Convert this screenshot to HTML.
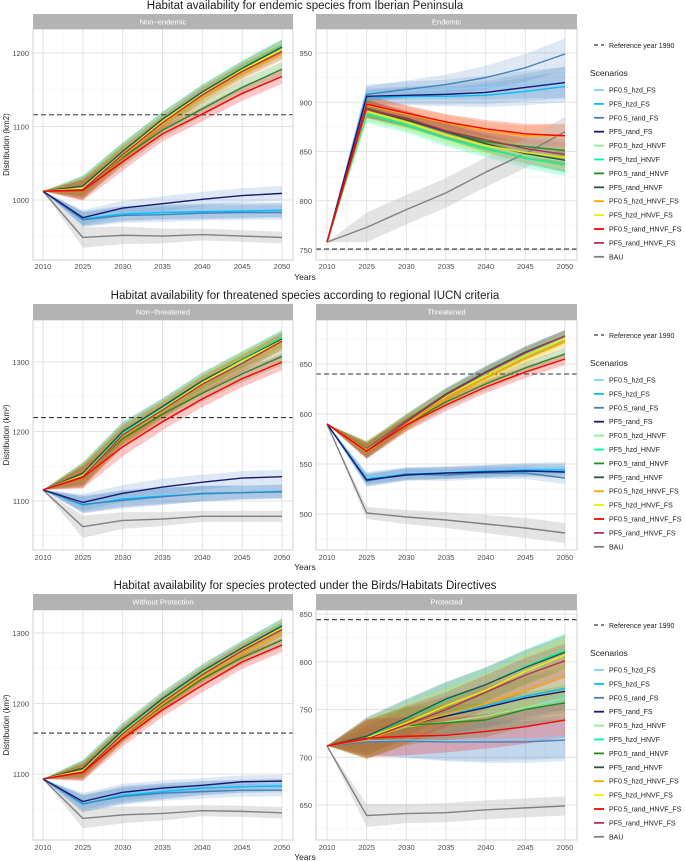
<!DOCTYPE html>
<html><head><meta charset="utf-8"><style>
html,body{margin:0;padding:0;background:#fff;}
svg{display:block;font-family:"Liberation Sans",sans-serif;}
</style></head><body>
<svg id="chart" width="685" height="861" viewBox="0 0 685 861" xmlns="http://www.w3.org/2000/svg"></svg>
<script>
const years = ["2010","2025","2030","2035","2040","2045","2050"];
const seriesNames = ["PF0.5_hzd_FS","PF5_hzd_FS","PF0.5_rand_FS","PF5_rand_FS","PF0.5_hzd_HNVF","PF5_hzd_HNVF","PF0.5_rand_HNVF","PF5_rand_HNVF","PF0.5_hzd_HNVF_FS","PF5_hzd_HNVF_FS","PF0.5_rand_HNVF_FS","PF5_rand_HNVF_FS","BAU"];
const seriesColors = ["#87cefa","#00bfff","#4682b4","#191970","#90ee90","#00fa9a","#228b22","#2f4f4f","#ffa500","#eeee00","#ff0000","#b03060","#808080"];
const groupOf = ["fs","fs","fs","fs","hn","hn","hn","hn","hn","hn","hn","hn","bau"];
const rowTitles = ["Habitat availability for endemic species from Iberian Peninsula","Habitat availability for threatened species according to regional IUCN criteria","Habitat availability for species protected under the Birds/Habitats Directives"];
const panelLabels = ["Non\u2212endemic","Endemic","Non\u2212threatened","Threatened","Without Protection","Protected"];
const refValues = [1116, 751, 1220, 640, 1158, 844];
const yTicks1 = [1000,1100,1200];
const yTicks2 = [750,800,850,900,950];
const yTicks3 = [1100,1200,1300];
const yTicks4 = [500,550,600,650];
const yTicks5 = [1100,1200,1300];
const yTicks6 = [650,700,750,800,850];

const p1 = [
 [1012,975,982,984,985,986,987],[1012,974,981,983,984,985,986],[1012,973,979,980,982,983,983],[1012,976,989,995,1001,1006,1009],
 [1012,1017,1064,1108,1145,1177,1206],[1012,1019,1066,1110,1147,1180,1209],[1012,1016,1058,1095,1124,1153,1178],[1012,1019,1066,1110,1147,1179,1208],
 [1012,1015,1060,1103,1140,1172,1200],[1012,1016,1063,1107,1144,1177,1205],[1012,1013,1052,1090,1117,1145,1168],[1012,1014,1062,1105,1143,1175,1202],
 [1012,949,952,951,953,951,949]];
const p2 = [
 [758,910,912,913,915,918,920],[758,904,906,906,907,911,916],[758,908,913,918,925,935,949],[758,906,907,908,910,915,920],
 [758,890,879,866,855,846,840],[758,888,877,863,853,843,837],[758,894,883,871,860,855,851],[758,893,882,870,858,848,841],
 [758,897,888,879,871,866,866],[758,891,880,867,856,849,844],[758,898,889,880,873,868,866],[758,893,884,871,862,853,847],
 [758,773,791,808,829,848,870]];
const p3 = [
 [1116,1096,1104,1108,1111,1113,1115],[1116,1094,1103,1107,1110,1112,1114],[1116,1095,1101,1106,1111,1112,1113],[1116,1098,1111,1120,1127,1133,1135],
 [1116,1138,1196,1233,1270,1300,1330],[1116,1139,1198,1235,1272,1304,1335],[1116,1137,1190,1225,1255,1283,1308],[1116,1140,1200,1236,1273,1303,1333],
 [1116,1136,1193,1230,1267,1298,1328],[1116,1137,1195,1232,1270,1302,1331],[1116,1134,1178,1214,1247,1276,1300],[1116,1135,1195,1231,1268,1298,1330],
 [1116,1063,1072,1074,1078,1078,1078]];
const p4 = [
 [590,536,541,542,543,545,546],[590,535,540,541,543,544,544],[590,533,540,539,541,541,536],[590,534,539,541,542,543,542],
 [590,565,592,618,640,660,676],[590,564,593,620,642,661,678],[590,564,590,612,630,646,660],[590,565,593,620,642,662,678],
 [590,564,590,615,636,655,672],[590,564,592,618,638,658,675],[590,563,589,609,627,642,655],[590,563,592,619,641,661,678],
 [590,501,497,494,490,486,481]];
const p5 = [
 [1093,1059,1071,1076,1080,1083,1085],[1093,1057,1070,1075,1080,1082,1083],[1093,1058,1068,1073,1075,1077,1077],[1093,1061,1074,1080,1084,1089,1090],
 [1093,1106,1158,1203,1242,1275,1306],[1093,1107,1160,1206,1245,1279,1311],[1093,1106,1155,1197,1235,1265,1290],[1093,1108,1162,1207,1246,1279,1310],
 [1093,1104,1155,1199,1238,1271,1300],[1093,1105,1158,1203,1242,1276,1307],[1093,1102,1150,1191,1226,1259,1283],[1093,1103,1157,1202,1241,1275,1305],
 [1093,1037,1042,1044,1048,1047,1045]];
const p6 = [
 [712,717,718,717,718,719,721],[712,719,734,744,754,764,772],[712,716,717,716,716,716,718],[712,719,734,743,752,762,769],
 [712,719,732,737,743,752,762],[712,721,740,760,776,795,812],[712,718,733,736,739,750,757],[712,722,741,761,776,794,810],
 [712,718,733,745,756,770,785],[712,720,736,754,770,790,807],[712,720,722,723,727,732,739],[712,719,734,750,768,786,801],
 [712,639,641,642,645,647,649]];
const bandFs = [[0,10,10,10,10,10,10],[0,8,9,10,12,14,16],[0,12,12,12,11,10,10],[0,6,6,6,6,6,6],[0,12,12,11,10,9,9],[0,14,18,20,22,22,22]];
const bandHn = [[0,14,12,10,10,10,10],[0,9,8,8,9,10,12],[0,16,14,12,12,12,12],[0,8,7,6,6,6,6],[0,12,11,10,10,10,10],[0,20,20,18,18,18,18]];
const bandBau = [[0,14,12,10,8,8,8],[0,15,15,15,15,15,15],[0,16,12,10,8,8,8],[0,6,7,8,9,10,10],[0,14,12,10,8,8,8],[0,12,10,10,10,10,10]];

const NS="http://www.w3.org/2000/svg";
const svg=document.getElementById('chart');
function mk(tag,attrs,parent){const e=document.createElementNS(NS,tag);for(const k in attrs)e.setAttribute(k,attrs[k]);(parent||svg).appendChild(e);return e;}

const panelData=[p1,p2,p3,p4,p5,p6];
const panelTicks=[yTicks1,yTicks2,yTicks3,yTicks4,yTicks5,yTicks6];
const colGeo=[[33,293,43,282],[316,577,327,565]];
const rowGeo=[[9,14,29,260,269,280],[299,304,320,550,560,570],[589,594,610,840,850,860]];
const yAnch=[[1000,200,1200,53],[750,250,950,53],[1100,501,1300,362],[500,514,650,364],[1100,774,1300,633],[650,805,850,614]];

for(let r=0;r<3;r++){
  const rg=rowGeo[r];
  const t=mk('text',{x:305,y:rg[0],'text-anchor':'middle','font-size':'11.5',fill:'#222'});
  
  
  t.textContent=rowTitles[r];
  const yt=mk('text',{x:0,y:0,'text-anchor':'middle','font-size':'8',fill:'#222',transform:`translate(9,${(rg[2]+rg[3])/2}) rotate(-90)`});
  
  
  yt.textContent = r===0 ? 'Distribution (km2)' : 'Distribution (km\u00b2)';
  const yr=mk('text',{x:305,y:rg[5],'text-anchor':'middle','font-size':'8.5',fill:'#222'});
  
  
  yr.textContent='Years';

  for(let c=0;c<2;c++){
    const pi=r*2+c, cg=colGeo[c], an=yAnch[pi];
    const X=i=>cg[2]+(cg[3]-cg[2])*i/(years.length-1);
    const Y=v=>an[1]+(v-an[0])*(an[3]-an[1])/(an[2]-an[0]);
    const g=mk('g',{});
    
    
    const clipId='clip'+pi;
    const cp=mk('clipPath',{id:clipId},g);mk('rect',{x:cg[0],y:rg[2],width:cg[1]-cg[0],height:rg[3]-rg[2]},cp);
    mk('rect',{x:cg[0],y:rg[2],width:cg[1]-cg[0],height:rg[3]-rg[2],fill:'#fff'},g);
    const ticks=panelTicks[pi], step=ticks[1]-ticks[0];
    for(let v=ticks[0]-step*1.5;v<=ticks[ticks.length-1]+step*1.5;v+=step){const y=Y(v);if(y>rg[2]&&y<rg[3])mk('line',{x1:cg[0],x2:cg[1],y1:y,y2:y,stroke:'#f0f0f0','stroke-width':0.6},g);}
    for(let i=0;i<years.length-1;i++){const x=(X(i)+X(i+1))/2;mk('line',{x1:x,x2:x,y1:rg[2],y2:rg[3],stroke:'#f0f0f0','stroke-width':0.6},g);}
    ticks.forEach(v=>{const y=Y(v);mk('line',{x1:cg[0],x2:cg[1],y1:y,y2:y,stroke:'#e3e3e3','stroke-width':1},g);
      const tl=mk('text',{x:cg[0]-4,y:y+3,'text-anchor':'end','font-size':'7.5',fill:'#4d4d4d'},g);
      
      
      tl.textContent=v;});
    years.forEach((yv,i)=>{const x=X(i);mk('line',{x1:x,x2:x,y1:rg[2],y2:rg[3],stroke:'#e3e3e3','stroke-width':1},g);
      const tl=mk('text',{x:x,y:rg[4],'text-anchor':'middle','font-size':'7.5',fill:'#4d4d4d'},g);
      
      
      tl.textContent=yv;});
    const dg=mk('g',{'clip-path':`url(#${clipId})`},g);
    const data=panelData[pi];
    const bands={fs:bandFs[pi],hn:bandHn[pi],bau:bandBau[pi]};
    data.forEach((s,si)=>{const b=bands[groupOf[si]];
      let d='M'+s.map((v,i)=>X(i)+','+Y(v+b[i])).join('L');
      for(let i=s.length-1;i>=0;i--)d+='L'+X(i)+','+Y(s[i]-b[i]);
      const grp=groupOf[si];
      const fill=grp==='bau'?'#bbbbbb':(grp==='fs'?'#4a86c5':seriesColors[si]);
      const op=grp==='bau'?0.4:(grp==='fs'?0.18:0.22);
      const rb=mk('path',{d:d+'Z',fill:fill,'fill-opacity':op,stroke:'none'},dg);
      
      });
    const rl=mk('line',{x1:cg[0],x2:cg[1],y1:Y(refValues[pi]),y2:Y(refValues[pi]),stroke:'#333','stroke-width':1.1,'stroke-dasharray':'5,3'},dg);
    
    
    const order=[12,0,1,2,3,4,5,6,7,8,9,11,10];
    order.forEach(si=>{const s=data[si];
      const pl=mk('polyline',{points:s.map((v,i)=>X(i)+','+Y(v)).join(' '),fill:'none',stroke:seriesColors[si],'stroke-width':1.4,'stroke-linejoin':'round'},dg);
      
      });
    mk('rect',{x:cg[0],y:rg[2],width:cg[1]-cg[0],height:rg[3]-rg[2],fill:'none',stroke:'#cfcfcf','stroke-width':1},g);
    const st=mk('rect',{x:cg[0],y:rg[1],width:cg[1]-cg[0],height:rg[2]-rg[1],fill:'#b3b3b3'},g);
    
    
    const sl=mk('text',{x:(cg[0]+cg[1])/2,y:rg[1]+10.5,'text-anchor':'middle','font-size':'7.5',fill:'#fff'},g);
    
    
    sl.textContent=panelLabels[pi];
  }
  const off=[0,290,580][r];
  const lg=mk('g',{});
  
  
  mk('line',{x1:594,x2:604,y1:45+off,y2:45+off,stroke:'#333','stroke-width':1.2,'stroke-dasharray':'4,3'},lg);
  const rt=mk('text',{x:609,y:48+off,'font-size':'7',fill:'#222'},lg);
  
  
  rt.textContent='Reference year 1990';
  const sc=mk('text',{x:590,y:76+off,'font-size':'8.5',fill:'#222'},lg);
  
  
  sc.textContent='Scenarios';
  seriesNames.forEach((n,i)=>{const y=90+off+i*13.9;
    mk('line',{x1:594,x2:604,y1:y,y2:y,stroke:seriesColors[i],'stroke-width':1.8},lg);
    const lt=mk('text',{x:609,y:y+2.5,'font-size':'7',fill:'#222'},lg);
    
    
    lt.textContent=n;});
}
</script>
</body></html>
